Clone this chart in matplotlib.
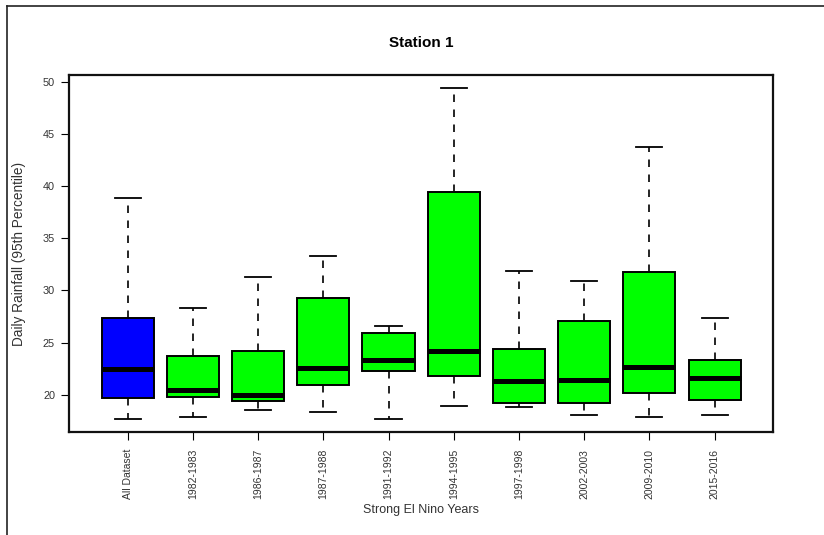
import matplotlib
matplotlib.use("Agg")
import matplotlib.pyplot as plt
from matplotlib.lines import Line2D

plt.rcParams['font.family'] = ['Liberation Sans', 'DejaVu Sans']

# Box statistics (daily rainfall, 95th percentile)
categories = ["All Dataset", "1982-1983", "1986-1987", "1987-1988", "1991-1992",
              "1994-1995", "1997-1998", "2002-2003", "2009-2010", "2015-2016"]
whisker_lo = [17.7, 17.9, 18.5, 18.35, 17.7, 18.95, 18.85, 18.05, 17.85, 18.1]
q1 = [19.7, 19.8, 19.4, 20.95, 22.25, 21.8, 19.2, 19.2, 20.15, 19.45]
median = [22.45, 20.5, 20.0, 22.55, 23.3, 24.2, 21.35, 21.45, 22.7, 21.6]
q3 = [27.4, 23.75, 24.2, 29.3, 25.9, 39.4, 24.4, 27.1, 31.75, 23.3]
whisker_hi = [38.9, 28.3, 31.3, 33.35, 26.55, 49.4, 31.85, 30.9, 43.8, 27.4]
box_colors = ["#0000ff"] + ["#00ff00"] * 9

stats = []
for name, lo, a, m, b, hi in zip(categories, whisker_lo, q1, median, q3, whisker_hi):
    stats.append({"label": name, "whislo": lo, "q1": a, "med": m, "q3": b, "whishi": hi, "fliers": []})

fig = plt.figure(figsize=(8.24, 5.35), dpi=100)
ax = fig.add_axes([0.0837, 0.192, 0.8548, 0.668])

positions = list(range(1, len(categories) + 1))
bp = ax.bxp(stats, positions=positions, widths=0.8, patch_artist=True, showfliers=False,
            boxprops=dict(linewidth=1.4, edgecolor="black"),
            medianprops=dict(color="black", linewidth=3.6, solid_capstyle="butt"),
            whiskerprops=dict(color="black", linewidth=1.2, linestyle=(0, (4.5, 4.5))),
            capprops=dict(color="black", linewidth=1.3),
            capwidths=0.4)
for patch, c in zip(bp["boxes"], box_colors):
    patch.set_facecolor(c)

ax.set_xlim(0.1, 10.9)
ax.set_ylim(16.4, 50.67)
ax.set_yticks([20, 25, 30, 35, 40, 45, 50])
ax.set_xticks(positions)
ax.set_xticklabels(categories, rotation=90, fontsize=7.5, color="#333333")
ax.tick_params(axis="y", labelsize=7.8, labelcolor="#333333", length=6, width=0.8, pad=4)
ax.tick_params(axis="x", length=6, width=0.8, pad=6)
for sp in ax.spines.values():
    sp.set_linewidth(1.6)
    sp.set_color("#111111")

ax.set_title("Station 1", fontsize=11, fontweight="bold", pad=20)
ax.set_xlabel("Strong El Nino Years", fontsize=9, color="#333333", labelpad=3)
ax.set_ylabel("Daily Rainfall (95th Percentile)", fontsize=9.8, color="#333333", labelpad=12)

# thin frame around the screenshot (top and left edges)
fig.add_artist(Line2D([7 / 824, 1.0], [1 - 6 / 535, 1 - 6 / 535], color="#222222", linewidth=1.2))
fig.add_artist(Line2D([7 / 824, 7 / 824], [0.0, 1 - 6 / 535], color="#222222", linewidth=1.2))

fig.savefig("out.png", dpi=100)
